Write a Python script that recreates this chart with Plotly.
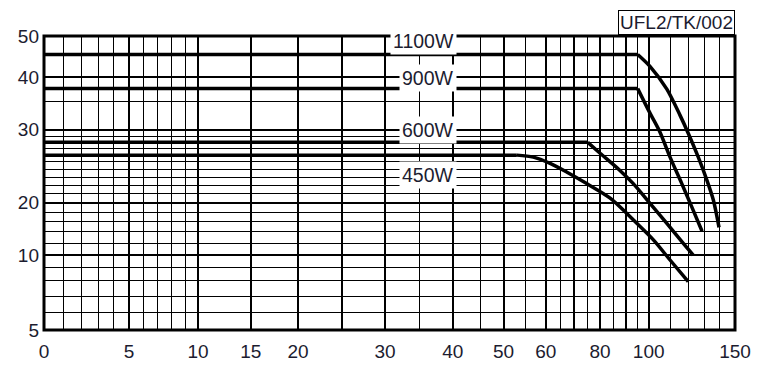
import numpy as np
import plotly.graph_objects as go

# ---------------- data ----------------
X_1100 = [0, 95, 100.6, 108.5, 115.3, 119.6, 125.9, 131.4, 135.9, 139.8]
Y_1100 = [45.5, 45.5, 42.6, 37.5, 32.5, 29.45, 25.7, 22.7, 20.3, 14.9]

X_900 = [0, 95, 100.6, 105.3, 110, 116.2, 121.7, 128.3]
Y_900 = [37.6, 37.6, 32.9, 29.6, 25.7, 22.2, 19.2, 14.1]

X_600 = [0, 75, 80, 87.6, 93.1, 100.6, 108.5, 117, 122.7]
Y_600 = [28, 28, 26.3, 23.9, 22.2, 19.9, 15.7, 12, 10]

X_450 = [0, 53, 56.9, 61.5, 67.3, 74.6, 83.8, 94.6, 102.2, 110, 119.6]
Y_450 = [26, 26, 25.7, 24.8, 23.7, 22.2, 20.5, 15.7, 12.6, 9.6, 7.9]

SERIES_LABELS = ["1100W", "900W", "600W", "450W"]
LABEL_Y = [48.7, 39.7, 29.9, 23.3]

X_TICKS = [0, 5, 10, 15, 20, 25, 30, 40, 50, 60, 70, 80, 90, 100, 150]
X_TICK_TEXT = ["0", "5", "10", "15", "20", "", "30", "40", "50", "60", "", "80", "", "100", "150"]
X_MINOR = [1, 2, 3, 4, 6, 7, 8, 9, 35, 45, 55, 65, 75, 85, 95, 110, 120, 130, 140]

Y_TICKS = [5, 10, 20, 30, 40, 50]
Y_TICK_TEXT = ["5", "10", "20", "30", "40", "50"]
Y_MINOR = [6, 7, 8, 9, 12, 14, 16, 18, 21, 22, 23, 24, 25, 26, 27, 28, 29, 35]

CODE_LABEL = "UFL2/TK/002"

# ------------- axis scale definition (non-standard chart paper) -------------
X_SCALE_VALUES = [0, 1, 2, 3, 4, 5, 6, 7, 8, 9, 10, 15, 20, 25, 30, 35, 40, 45, 50,
                  55, 60, 65, 70, 75, 80, 85, 90, 95, 100, 110, 120, 130, 140, 150]
X_SCALE_FRAC = [0.0, 0.0279, 0.0546, 0.0786, 0.1009, 0.1230, 0.1437, 0.1640, 0.1842,
                0.2041, 0.2229, 0.2992, 0.3676, 0.4313, 0.4935, 0.5427, 0.5915, 0.6320,
                0.6650, 0.6971, 0.7261, 0.7472, 0.7670, 0.7869, 0.8047, 0.8239, 0.8423,
                0.8592, 0.8751, 0.9060, 0.9334, 0.9562, 0.9773, 1.0]
Y_SCALE_VALUES = [5, 6, 7, 8, 9, 10, 12, 14, 16, 18, 20, 21, 22, 23, 24, 25, 26, 27, 28,
                  29, 30, 35, 40, 50]
Y_SCALE_FRAC = [0.0, 0.0588, 0.1132, 0.1699, 0.2130, 0.2548, 0.2946, 0.3340, 0.3680,
                0.4000, 0.4326, 0.4639, 0.4928, 0.5183, 0.5455, 0.5720, 0.5948, 0.6168,
                0.6382, 0.6593, 0.6819, 0.7781, 0.8607, 1.0]


def fx(v):
    return np.interp(v, X_SCALE_VALUES, X_SCALE_FRAC)


def fy(v):
    return np.interp(v, Y_SCALE_VALUES, Y_SCALE_FRAC)


FONT = "Liberation Sans, Arial, Helvetica, sans-serif"
TXT = "#1c1c30"
LW = 3.5

fig = go.Figure()
for xs, ys in [(X_1100, Y_1100), (X_900, Y_900), (X_600, Y_600), (X_450, Y_450)]:
    # constant-power plateau
    fig.add_trace(go.Scatter(
        x=fx(xs[:2]), y=fy(ys[:2]), mode="lines",
        line=dict(color="black", width=LW),
        showlegend=False, hoverinfo="skip"))
    # fall-off curve
    fig.add_trace(go.Scatter(
        x=fx(xs[1:]), y=fy(ys[1:]), mode="lines",
        line=dict(color="black", width=LW, shape="spline", smoothing=0.8),
        showlegend=False, hoverinfo="skip"))

for lab, ly in zip(SERIES_LABELS, LABEL_Y):
    fig.add_annotation(x=fx(40), y=fy(ly), xref="x", yref="y", text=lab,
                       showarrow=False, xanchor="right", yanchor="middle",
                       xshift=4, bgcolor="white", borderpad=2,
                       font=dict(family=FONT, size=19.5, color=TXT))

fig.add_annotation(x=1.0, y=1.0, xref="paper", yref="paper", text=CODE_LABEL,
                   showarrow=False, xanchor="right", yanchor="bottom",
                   bgcolor="white", bordercolor="black", borderwidth=1, borderpad=1,
                   yshift=1, font=dict(family=FONT, size=19, color=TXT))

fig.add_shape(type="rect", xref="paper", yref="paper", x0=0, y0=0, x1=1, y1=1,
              line=dict(color="black", width=3), layer="above")

fig.update_layout(
    width=767, height=368,
    margin=dict(l=44, r=32, t=36, b=38, autoexpand=False),
    paper_bgcolor="white", plot_bgcolor="white",
    font=dict(family=FONT, size=19, color=TXT),
    xaxis=dict(range=[0, 1], tickmode="array", tickvals=fx(X_TICKS), ticktext=X_TICK_TEXT,
               showgrid=True, gridcolor="black", gridwidth=2, zeroline=False,
               ticks="", ticklabelstandoff=8, showline=False, automargin=False,
               minor=dict(tickmode="array", tickvals=fx(X_MINOR), showgrid=True,
                          gridcolor="black", gridwidth=1, ticks="")),
    yaxis=dict(range=[0, 1], tickmode="array", tickvals=fy(Y_TICKS), ticktext=Y_TICK_TEXT,
               showgrid=True, gridcolor="black", gridwidth=2, zeroline=False,
               ticks="", ticklabelstandoff=4, showline=False, automargin=False,
               minor=dict(tickmode="array", tickvals=fy(Y_MINOR), showgrid=True,
                          gridcolor="black", gridwidth=1, ticks="")),
)

fig.write_html("out.html")
